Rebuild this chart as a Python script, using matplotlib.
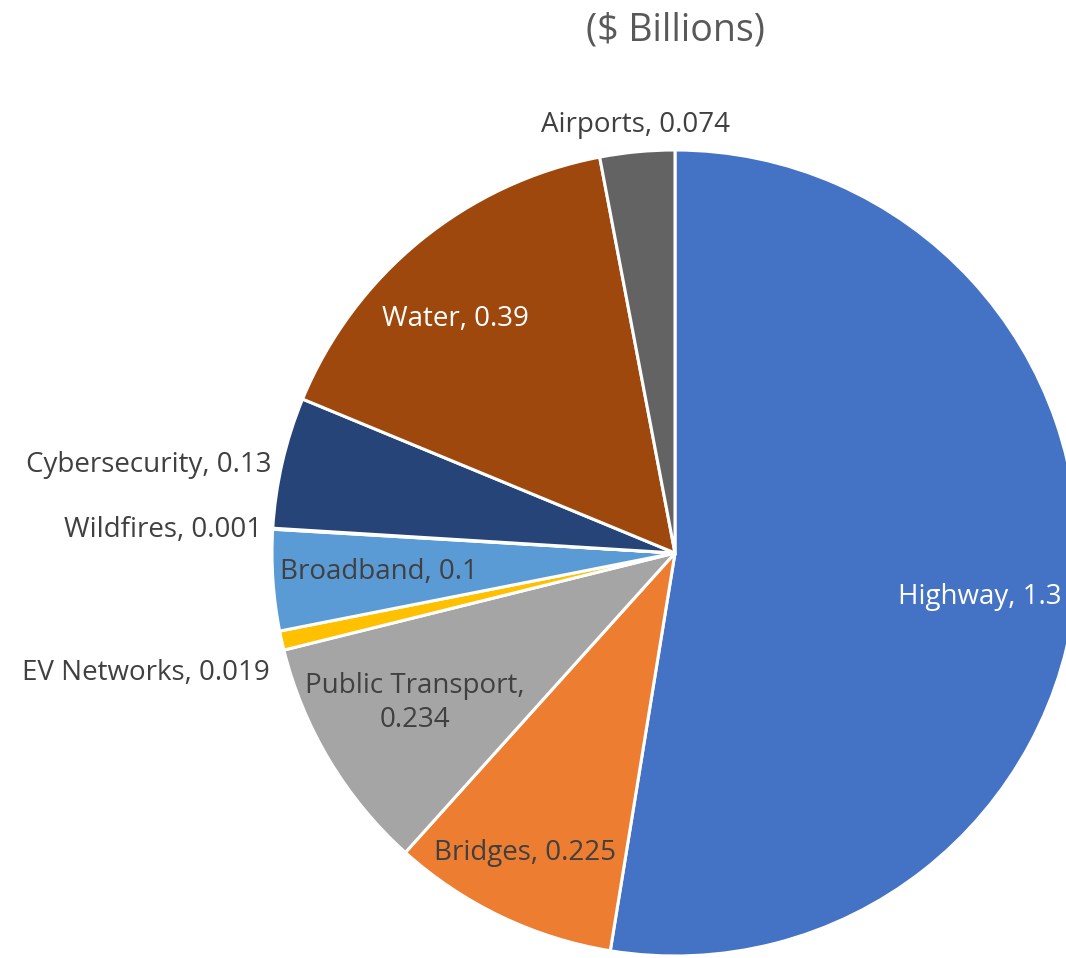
import matplotlib.pyplot as plt
import numpy as np

plt.rcParams['font.family'] = ['Open Sans', 'DejaVu Sans']

# 各类投资（十亿美元），从 12 点方向顺时针排列
categories = ['Highway', 'Bridges', 'Public Transport', 'EV Networks', 'Broadband',
              'Wildfires', 'Cybersecurity', 'Water', 'Airports']
values = [1.3, 0.225, 0.234, 0.019, 0.1, 0.001, 0.13, 0.39, 0.074]
value_text = ['1.3', '0.225', '0.234', '0.019', '0.1', '0.001', '0.13', '0.39', '0.074']
colors = ['#4472C4', '#ED7D31', '#A5A5A5', '#FFC000', '#5B9BD5',
          '#70AD47', '#264478', '#9E480E', '#636363']

# 标签位置 (x, y, 水平对齐, 文字颜色)，单位为饼图半径
label_pos = {
    'Highway': (0.553, -0.11, 'left', 'white'),
    'Bridges': (-0.372, -0.745, 'center', '#404040'),
    'Public Transport': (-0.645, -0.372, 'center', '#404040'),
    'EV Networks': (-1.005, -0.298, 'right', '#404040'),
    'Broadband': (-0.98, -0.048, 'left', '#404040'),
    'Wildfires': (-1.025, 0.057, 'right', '#404040'),
    'Cybersecurity': (-1.0, 0.218, 'right', '#404040'),
    'Water': (-0.546, 0.581, 'center', 'white'),
    'Airports': (-0.097, 1.062, 'center', '#404040'),
}

W, H = 1066, 958
cx, cy, r = 675, 553, 403

fig = plt.figure(figsize=(W / 100, H / 100), dpi=100)
ax = fig.add_axes([0, 0, 1, 1])

ax.pie(values, colors=colors, startangle=90, counterclock=False, radius=1,
       wedgeprops=dict(edgecolor='white', linewidth=2.2))

ax.set_xlim(-cx / r, (W - cx) / r)
ax.set_ylim(-(H - cy) / r, cy / r)
ax.set_aspect('equal')
ax.axis('off')

for name, val in zip(categories, value_text):
    x, y, ha, col = label_pos[name]
    if name == 'Public Transport':
        txt = f'{name},\n{val}'
    else:
        txt = f'{name}, {val}'
    ax.text(x, y, txt, ha=ha, va='center', color=col, fontsize=20,
            linespacing=1.3, multialignment='center')

ax.text(0, (cy - 31) / r, '($ Billions)', ha='center', va='center',
        color='#595959', fontsize=27)

fig.savefig('out.png', dpi=100)
